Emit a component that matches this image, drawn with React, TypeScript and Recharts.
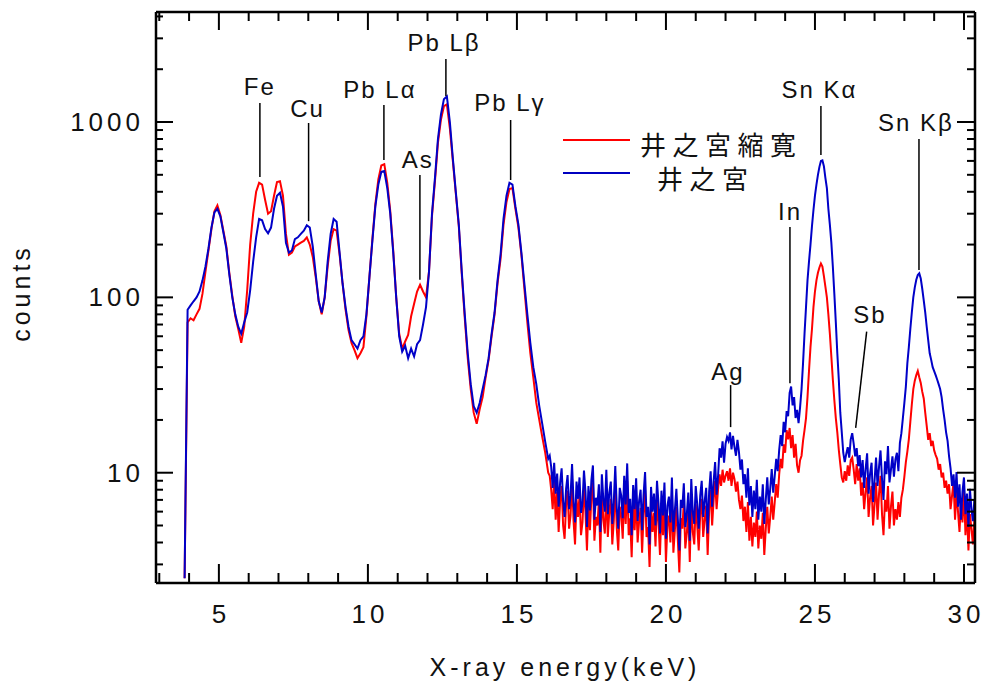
import React from 'react';
import {
  LineChart,
  Line,
  XAxis,
  YAxis,
  ReferenceLine,
  ReferenceDot,
} from 'recharts';

// two channel groups: coarse below 16.1 keV, fine from 16.1 keV
const LOW_START = 3.85;
const LOW_STEP = 0.1;
const HIGH_START = 16.1;
const HIGH_STEP = 0.05;

// 井之宮縮寛 (red), 3.85–16.05 keV, one row per keV
const redLow = [
  2.5, 72, 76, 74, 80, 86, 105, 140, 185, 245,
  310, 335, 295, 240, 195, 138, 102, 78, 66, 55,
  68, 110, 200, 300, 400, 450, 440, 360, 300, 310,
  380, 455, 460, 380, 230, 175, 180, 195, 200, 205,
  210, 220, 200, 170, 130, 95, 80, 100, 150, 210,
  245, 240, 175, 120, 85, 65, 55, 50, 45, 48,
  52, 78, 130, 215, 340, 470, 565, 575, 450, 310,
  185, 100, 62, 51, 56, 61, 78, 92, 108, 118,
  108, 100, 140, 290, 460, 760, 1030, 1230, 1260, 920,
  600, 390, 255, 135, 76, 45, 30, 22, 19, 23,
  27, 35, 44, 60, 80, 120, 165, 260, 350, 415,
  420, 320, 250, 175, 112, 72, 48, 35, 25, 20,
  16, 13, 10,
];

// 井之宮 (blue), 3.85–16.05 keV
const blueLow = [
  2.5, 85, 90, 95, 100, 108, 125, 150, 190, 250,
  305, 320, 290, 235, 190, 135, 100, 80, 68, 62,
  72, 82, 110, 160, 220, 280, 275, 245, 232, 250,
  320, 380, 395, 330, 205, 180, 185, 215, 220, 230,
  240, 258, 250, 195, 135, 95, 82, 100, 160, 230,
  280, 270, 180, 120, 88, 68, 57, 54, 51, 57,
  60, 80, 130, 210, 330, 440, 520, 525, 420, 300,
  180, 100, 60, 49, 53, 45, 51, 46, 54, 57,
  70, 88, 140, 300, 480, 800, 1100, 1350, 1400, 1000,
  620, 400, 260, 140, 80, 48, 32, 24, 22, 25,
  30, 36, 45, 62, 82, 125, 175, 280, 380, 450,
  440, 330, 260, 180, 120, 80, 55, 40, 32, 24,
  19, 15, 12,
];

// 井之宮縮寛 (red), 16.10–30.35 keV, one row per keV
const redHigh = [
  9.6, 8.0, 6.2, 9.1, 5.4, 7.8, 4.6, 6.9, 8.4, 5.0, 4.2, 6.6, 7.9, 4.8, 5.7, 9.2, 5.3, 3.9, 7.1, 5.6,
  7.4, 4.4, 5.2, 8.3, 6.0, 3.6, 6.7, 4.7, 7.3, 8.8, 4.1, 5.6, 5.0, 6.9, 3.5, 7.8, 5.4, 4.5, 8.2, 4.3,
  6.0, 7.1, 3.9, 5.3, 8.6, 4.8, 3.6, 6.4, 5.8, 4.2, 7.6, 5.1, 9.0, 4.4, 5.5, 3.3, 6.7, 4.7, 7.4, 4.0,
  5.3, 6.3, 3.5, 5.8, 8.0, 4.3, 4.9, 2.9, 6.5, 4.6, 5.9, 3.8, 7.1, 5.2, 3.4, 6.2, 4.4, 6.9, 3.1, 5.0,
  5.7, 4.0, 7.4, 3.5, 4.7, 6.4, 4.1, 2.7, 5.5, 4.8, 6.8, 3.7, 4.5, 6.0, 3.1, 7.2, 4.6, 3.9, 6.6, 5.0,
  3.6, 5.8, 7.1, 4.3, 5.4, 6.5, 3.4, 6.1, 8.0, 5.0, 7.0, 9.0, 6.2, 8.1, 9.8, 8.4, 10.4, 8.8, 9.6, 10.2,
  9.0, 10.6, 8.4, 10.0, 9.2, 7.8, 8.9, 7.0, 6.2, 7.4, 5.3, 6.4, 4.6, 6.8, 4.1, 5.6, 3.8, 5.2, 4.3, 6.0,
  3.7, 5.0, 4.2, 5.9, 3.4, 4.8, 6.4, 4.5, 5.6, 7.3, 5.4, 6.8, 8.6, 7.2, 9.8, 12.0, 10.6, 14.5, 13.0, 17.5,
  15.5, 18.0, 13.8, 16.4, 12.2, 14.6, 11.0, 10.0, 11.8, 12.5, 15.2, 17.5, 20.5, 27, 38, 52, 66, 88, 108, 125,
  138, 148, 156, 150, 132, 115, 100, 80, 62, 46, 34, 26, 20.5, 17, 13.5, 11.2, 9.4, 8.8, 10.2, 9.0,
  11.0, 9.6, 11.8, 12.2, 10.4, 8.6, 11.2, 9.0, 10.6, 7.4, 8.8, 6.2, 7.8, 9.4, 5.6, 7.2, 8.4, 5.0, 6.6, 8.8,
  5.4, 7.6, 9.6, 5.8, 4.4, 7.0, 6.0, 8.4, 4.8, 6.4, 7.8, 5.0, 6.2, 5.4, 6.8, 5.6, 7.2, 8.0, 9.5, 11.5,
  13.2, 15.5, 19.5, 24.5, 30, 33.5, 36, 38, 35, 32.5, 29, 26.5, 22, 18.5, 15.4, 16.8, 14.2, 15.2, 13.4, 12.6,
  12.0, 10.4, 11.2, 9.4, 10.0, 8.2, 9.0, 7.6, 8.6, 6.2, 7.4, 8.8, 5.4, 7.8, 6.0, 4.6, 7.0, 5.2, 8.0, 4.4,
  6.2, 3.6, 5.8, 4.8, 3.9, 5.4,
];

// 井之宮 (blue), 16.10–30.35 keV
const blueHigh = [
  12.5, 10.8, 8.2, 11.4, 7.6, 9.9, 6.4, 8.8, 10.6, 6.9, 5.6, 8.1, 9.7, 6.2, 7.4, 11.2, 6.8, 5.2, 8.9, 7.1,
  9.4, 5.9, 6.7, 10.3, 7.8, 4.9, 8.4, 6.1, 9.1, 11.0, 5.4, 7.2, 6.5, 8.6, 4.6, 9.8, 7.0, 6.0, 10.4, 5.8,
  7.7, 8.9, 5.1, 6.8, 10.9, 6.3, 4.8, 8.2, 7.4, 5.5, 9.6, 6.6, 11.3, 5.9, 7.1, 4.4, 8.5, 6.2, 9.3, 5.3,
  6.9, 8.0, 4.7, 7.5, 10.1, 5.6, 6.4, 3.9, 8.3, 6.0, 7.6, 5.0, 9.0, 6.7, 4.5, 7.9, 5.7, 8.8, 4.2, 6.5,
  7.3, 5.2, 9.4, 4.6, 6.1, 8.1, 5.4, 3.6, 7.0, 6.3, 8.7, 4.9, 5.8, 7.7, 4.1, 9.2, 6.0, 5.1, 8.4, 6.6,
  4.8, 7.4, 9.0, 5.6, 6.9, 8.2, 4.5, 7.8, 10.2, 6.4, 8.9, 11.5, 7.5, 9.6, 13.8, 12.2, 15.1, 11.4, 14.6, 16.0,
  15.2, 17.0, 13.6, 16.2, 14.0, 12.5, 15.4, 13.1, 10.4, 11.9, 8.6, 9.8, 7.2, 10.6, 6.5, 8.4, 5.6, 7.9, 6.2, 9.1,
  5.4, 7.3, 6.0, 8.6, 5.1, 7.0, 9.4, 6.6, 8.1, 10.5, 7.7, 9.6, 12.0, 10.2, 13.5, 16.4, 14.2, 19.5, 17.0, 22.5,
  21, 28.5, 31, 24.2, 27, 20.5, 22.8, 19.2, 23.5, 30, 42, 62, 88, 125, 160, 200, 255, 315, 380, 440,
  500, 555, 600, 605, 560, 480, 420, 320, 260, 205, 150, 105, 72, 48, 34, 22, 17, 13, 11.5, 12.8,
  14.0, 12.2, 15.5, 16.8, 14.6, 12.4, 13.8, 10.9, 12.6, 9.4, 11.8, 8.2, 10.5, 12.9, 7.6, 9.9, 11.4, 6.8, 9.0, 12.2,
  8.4, 10.8, 13.4, 9.2, 7.0, 11.6, 9.8, 14.2, 8.8, 10.4, 12.4, 9.5, 11.9, 13.0, 10.2, 14.8, 16.8, 20.5, 25.0, 31.0,
  42, 52, 66, 82, 100, 114, 126, 134, 137, 128, 112, 96, 82, 68, 57, 48, 44, 40, 38, 36,
  34, 32, 30, 27, 23, 20, 17, 15.2, 12.4, 10.6, 8.4, 9.8, 7.2, 10.1, 6.4, 8.6, 5.4, 7.8, 9.4, 5.8,
  7.6, 4.9, 8.1, 6.2, 5.3, 7.0,
];

const xTicks = [3, 4, 5, 6, 7, 8, 9, 10, 11, 12, 13, 14, 15, 16, 17, 18, 19, 20, 21, 22, 23, 24, 25, 26, 27, 28, 29, 30];
const yTicks = [3, 4, 5, 6, 7, 8, 9, 10, 20, 30, 40, 50, 60, 70, 80, 90, 100, 200, 300, 400, 500, 600, 700, 800, 900, 1000, 2000, 3000, 4000];
const yLabelled = [10, 100, 1000];

// peak labels: [text, keV, counts at baseline]
const peakLabels: [string, number, number][] = [
  ['Fe', 6.34, 1426],
  ['Cu', 7.94, 1068],
  ['Pb Lα', 10.37, 1371],
  ['As', 11.64, 547],
  ['Pb Lβ', 12.52, 2551],
  ['Pb Lγ', 14.73, 1155],
  ['Ag', 22.05, 33.8],
  ['In', 24.13, 276],
  ['Sb', 26.81, 71.4],
  ['Sn Kα', 25.12, 1371],
  ['Sn Kβ', 28.35, 892],
];

// leader lines: [keV top, counts top, keV bottom, counts bottom]
const leaders: [number, number, number, number][] = [
  [6.376, 1283, 6.376, 485],
  [8.01, 987, 8.01, 272],
  [10.537, 1250, 10.537, 607],
  [11.745, 499, 11.745, 126],
  [12.617, 2288, 12.617, 1406],
  [14.789, 1027, 14.789, 467],
  [22.17, 31.6, 22.17, 18.2],
  [24.161, 252, 24.161, 32.4],
  [25.2, 1233, 25.2, 648],
  [26.735, 63.7, 26.366, 18.0],
  [28.49, 800, 28.49, 143],
];

const data = [
  ...redLow.map((c, i) => ({
    e: Number((LOW_START + i * LOW_STEP).toFixed(2)),
    red: c,
    blue: blueLow[i],
  })),
  ...redHigh.map((c, i) => ({
    e: Number((HIGH_START + i * HIGH_STEP).toFixed(2)),
    red: c,
    blue: blueHigh[i],
  })),
];

const FONT = '"Liberation Sans", Arial, Helvetica, sans-serif';
const CJK = '"Noto Sans CJK JP", "Noto Sans CJK TC", sans-serif';

const BottomTick = (props: any) => {
  const { x, y, payload } = props;
  const major = payload.value % 5 === 0;
  return (
    <g>
      <line x1={x} x2={x} y1={y} y2={y - (major ? 19 : 10)} stroke="#000" strokeWidth={2} />
      {major && (
        <text x={x + 2} y={y + 40} textAnchor="middle" fontSize={26} letterSpacing={4} fontFamily={FONT} fill="#111">
          {payload.value}
        </text>
      )}
    </g>
  );
};

const TopTick = (props: any) => {
  const { x, y, payload } = props;
  const major = payload.value % 5 === 0;
  return <line x1={x} x2={x} y1={y} y2={y + (major ? 18 : 9)} stroke="#000" strokeWidth={2} />;
};

const LeftTick = (props: any) => {
  const { x, y, payload } = props;
  const major = yLabelled.includes(payload.value);
  return (
    <g>
      <line x1={x} x2={x + (major ? 17 : 7)} y1={y} y2={y} stroke="#000" strokeWidth={2} />
      {major && (
        <text x={x - 12} y={y} textAnchor="end" dominantBaseline="central" fontSize={26} letterSpacing={4} fontFamily={FONT} fill="#111">
          {payload.value}
        </text>
      )}
    </g>
  );
};

const RightTick = (props: any) => {
  const { x, y, payload } = props;
  const major = yLabelled.includes(payload.value);
  return <line x1={x} x2={x - (major ? 18 : 8)} y1={y} y2={y} stroke="#000" strokeWidth={2} />;
};

const axisLine = { stroke: '#000', strokeWidth: 2.5 };

export default function App() {
  return (
    <div style={{ position: 'absolute', left: 0, top: 0, width: 983, height: 684, background: '#fff' }}>
      <LineChart width={983} height={684} data={data} margin={{ top: 0, right: 0, bottom: 0, left: 0 }}>
        <XAxis
          xAxisId="b"
          dataKey="e"
          type="number"
          domain={[2.89, 30.37]}
          allowDataOverflow
          ticks={xTicks}
          interval={0}
          height={101}
          tickSize={0}
          tickMargin={0}
          tickLine={false}
          axisLine={axisLine}
          tick={<BottomTick />}
        />
        <XAxis
          xAxisId="t"
          orientation="top"
          dataKey="e"
          type="number"
          domain={[2.89, 30.37]}
          allowDataOverflow
          ticks={xTicks}
          interval={0}
          height={12}
          tickSize={0}
          tickMargin={0}
          tickLine={false}
          axisLine={axisLine}
          tick={<TopTick />}
        />
        <YAxis
          yAxisId="l"
          type="number"
          scale="log"
          domain={[2.35, 4240]}
          allowDataOverflow
          ticks={yTicks}
          interval={0}
          width={156}
          tickSize={0}
          tickMargin={0}
          tickLine={false}
          axisLine={axisLine}
          tick={<LeftTick />}
        />
        <YAxis
          yAxisId="r"
          orientation="right"
          type="number"
          scale="log"
          domain={[2.35, 4240]}
          allowDataOverflow
          ticks={yTicks}
          interval={0}
          width={8}
          tickSize={0}
          tickMargin={0}
          tickLine={false}
          axisLine={axisLine}
          tick={<RightTick />}
        />
        <Line
          xAxisId="t"
          yAxisId="r"
          dataKey="blue"
          stroke="transparent"
          dot={false}
          isAnimationActive={false}
        />
        <Line
          xAxisId="b"
          yAxisId="l"
          type="linear"
          dataKey="red"
          stroke="#ff0000"
          strokeWidth={2}
          dot={false}
          isAnimationActive={false}
        />
        <Line
          xAxisId="b"
          yAxisId="l"
          type="linear"
          dataKey="blue"
          stroke="#0000c8"
          strokeWidth={2}
          dot={false}
          isAnimationActive={false}
        />
        {leaders.map(([x1, y1, x2, y2], i) => (
          <ReferenceLine
            key={`ld-${i}`}
            xAxisId="b"
            yAxisId="l"
            segment={[{ x: x1, y: y1 }, { x: x2, y: y2 }]}
            stroke="#000"
            strokeWidth={1.5}
            ifOverflow="visible"
          />
        ))}
        {peakLabels.map(([txt, e, c]) => (
          <ReferenceDot
            key={txt}
            xAxisId="b"
            yAxisId="l"
            x={e}
            y={c}
            ifOverflow="visible"
            shape={(p: any) => (
              <text x={p.cx + 1} y={p.cy} textAnchor="middle" fontSize={24} letterSpacing={2} fontFamily={FONT} fill="#111">
                {txt}
              </text>
            )}
          />
        ))}
      </LineChart>
      <svg width={983} height={684} style={{ position: 'absolute', left: 0, top: 0, pointerEvents: 'none' }}>
        <line x1={563} x2={630} y1={140} y2={140} stroke="#ff0000" strokeWidth={2} />
        <line x1={563} x2={630} y1={173} y2={173} stroke="#0000c0" strokeWidth={2} />
        <text x={640} y={143} dominantBaseline="central" fontSize={26} letterSpacing={6.5} fontFamily={CJK} fill="#111">
          井之宮縮寛
        </text>
        <text x={657} y={177} dominantBaseline="central" fontSize={26} letterSpacing={6.5} fontFamily={CJK} fill="#111">
          井之宮
        </text>
        <text x={565} y={676} textAnchor="middle" fontSize={25} letterSpacing={4} fontFamily={FONT} fill="#111">
          X-ray energy(keV)
        </text>
        <text x={30} y={293} textAnchor="middle" fontSize={25} letterSpacing={4} fontFamily={FONT} fill="#111" transform="rotate(-90, 30, 293)">
          counts
        </text>
      </svg>
    </div>
  );
}
